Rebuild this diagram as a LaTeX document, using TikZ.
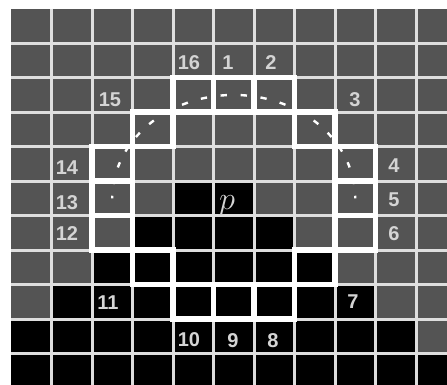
\documentclass[tikz,border=0pt]{standalone}
\usepackage{fontspec}
\setmainfont{Liberation Sans}
\definecolor{cellgray}{HTML}{545454}
\definecolor{gridgray}{HTML}{DEDEDE}
\definecolor{labelgray}{HTML}{D4D4D4}
\begin{document}
\begin{tikzpicture}[x=1pt,y=-1pt,
  lbl/.style={text=labelgray, font=\fontsize{20}{22}\selectfont\bfseries, inner sep=0pt},
  thingrid/.style={draw=gridgray, line width=3pt},
  ring/.style={draw=white, line width=5.5pt},
  dashseg/.style={draw=white, line width=2.4pt}]
\useasboundingbox (0,0) rectangle (447,385);
\fill[white] (0,0) rectangle (447,385);
\fill[cellgray] (11,8.7) rectangle (447,385);
% black cells: row / first col / last col
\foreach \r/\a/\b in {5/4/5, 6/3/6, 7/2/7, 8/1/8, 9/0/9, 10/0/10} {
  \fill[black] ({11+40.5*\a},{8.7+34.5*\r}) rectangle ({11+40.5*(\b+1)},{8.7+34.5*(\r+1)});
}
% thin grid
\foreach \k in {1,...,10} {
  \draw[thingrid] ({11+40.5*\k},8.7) -- ({11+40.5*\k},385);
  \draw[thingrid] (11,{8.7+34.5*\k}) -- (447,{8.7+34.5*\k});
}
% ring of 16 pixels
\foreach \c/\r in {5/2,6/2,7/3,8/4,8/5,8/6,7/7,6/8,5/8,4/8,3/7,2/6,2/5,2/4,3/3,4/2}
  \draw[ring] ({11+40.5*\c},{8.7+34.5*\r}) rectangle ++(40.5,34.5);
% dashed arc
\foreach \k in {0,...,9} {
  \pgfmathsetmacro\lo{4.737+9.474*\k-1.5}
  \pgfmathsetmacro\hi{min(4.737+9.474*\k+1.5,90)}
  \draw[dashseg] plot[domain=\lo:\hi, samples=4, variable=\t] ({233.75+121.5*sin(\t)},{198.45-103.5*cos(\t)});
  \draw[dashseg] plot[domain=\lo:\hi, samples=4, variable=\t] ({233.75-121.5*sin(\t)},{198.45-103.5*cos(\t)});
}
% labels
\node[lbl] (n16) at (189,63) {16};
\node[lbl] (n1) at (228,63) {1};
\node[lbl] (n2) at (271,63) {2};
\node[lbl] (n3) at (355,100) {3};
\node[lbl] (n4) at (394,166) {4};
\node[lbl] (n5) at (394,200) {5};
\node[lbl] (n6) at (394,234) {6};
\node[lbl] (n7) at (353,302) {7};
\node[lbl] (n8) at (273,341) {8};
\node[lbl] (n9) at (233,341) {9};
\node[lbl] (n10) at (189,340) {10};
\node[lbl] (n11) at (108,303) {11};
\node[lbl] (n12) at (67,234) {12};
\node[lbl] (n13) at (67,203) {13};
\node[lbl] (n14) at (67,168) {14};
\node[lbl] (n15) at (110,100) {15};
\node[lbl, font=\fontsize{24}{26}\selectfont, scale=1.3] (p) at (227,206) {$p$};
\end{tikzpicture}
\end{document}
